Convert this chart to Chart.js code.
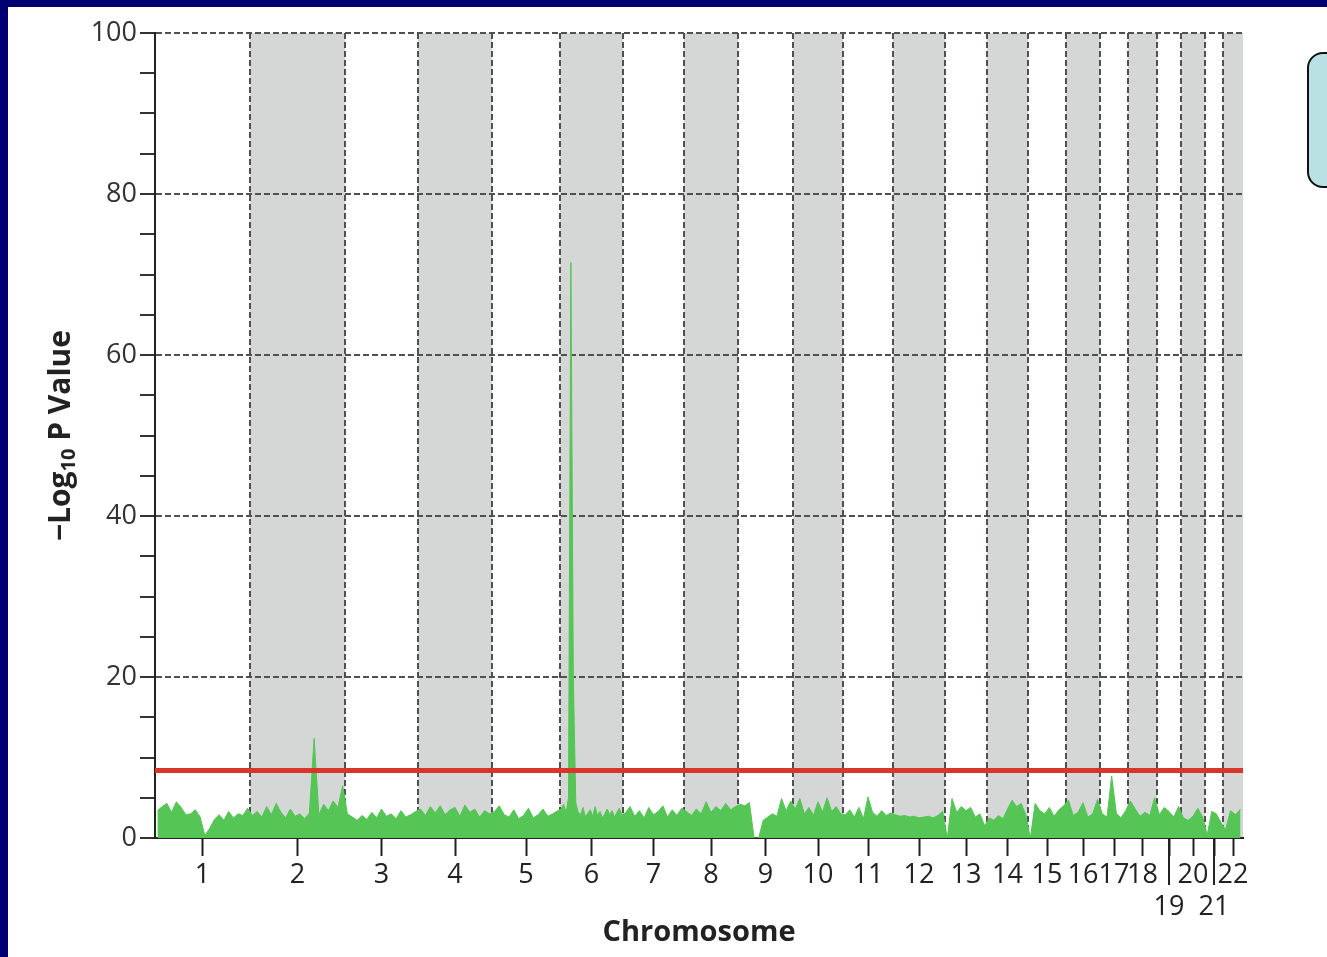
<!DOCTYPE html>
<html>
<head>
<meta charset="utf-8">
<script src="https://cdn.jsdelivr.net/npm/chart.js@4/dist/chart.umd.min.js"></script>
<style>
  html, body { margin: 0; padding: 0; }
  body { width: 1327px; height: 957px; background: #000070; position: relative; overflow: hidden; }
  #panel { position: absolute; left: 8px; top: 7px; right: 0; bottom: 0; background: #fff; }
  #note { position: absolute; left: 1307px; top: 52px; width: 60px; height: 132px; background: #b9e1e4; border: 2px solid #111; border-radius: 16px; }
  canvas { position: absolute; left: 0; top: 0; }
</style>
</head>
<body>
<div id="panel"></div>
<div id="note"></div>
<canvas id="chart" width="1327" height="957"></canvas>
<script>
const chromosomes = ['1','2','3','4','5','6','7','8','9','10','11','12','13','14','15','16','17','18','19','20','21','22'];
// relative chromosome widths
const chromLen = [95, 95, 73, 74, 68, 63, 61, 54, 55, 50, 50, 52, 42, 41, 38, 34, 28, 29, 24, 24, 18, 20];
const threshold = 8.4;

const chr1 = [3.4, 3.9, 4.3, 3.2, 4.5, 3.8, 2.9, 3.0, 3.5, 2.6, 0.3, 1.2, 2.3, 2.9, 2.2, 3.3, 2.5, 3.0, 2.8, 3.7];
const chr2 = [2.8, 3.3, 2.6, 3.9, 2.9, 4.3, 3.2, 2.5, 3.6, 2.7, 3.0, 2.4, 3.1, 12.4, 2.9, 4.2, 3.4, 4.6, 3.8, 6.5];
const chr3 = [3.0, 2.6, 2.2, 2.8, 2.3, 3.2, 2.5, 3.6, 2.7, 3.0, 2.4, 3.4, 2.6, 2.9, 3.3];
const chr4 = [3.6, 2.8, 3.9, 3.1, 4.0, 2.9, 3.5, 3.8, 2.7, 4.1, 3.2, 3.6, 2.6, 3.4, 3.0];
const chr5 = [3.3, 4.0, 2.9, 2.6, 3.5, 2.4, 2.8, 3.7, 2.5, 2.9, 3.6, 2.7, 3.0, 3.4];
const chr6 = [3.6, 4.2, 3.1, 5.0, 71.5, 20.0, 4.4, 3.2, 2.9, 3.8, 2.6, 3.1, 3.5, 2.7, 3.9, 2.8, 3.3, 2.5, 3.0, 3.6, 2.9, 3.4, 2.6, 3.2, 3.7, 2.9];
const chr7 = [3.1, 3.9, 2.7, 3.4, 2.5, 3.8, 2.9, 3.3, 4.0, 2.6, 3.5, 2.8, 3.7];
const chr8 = [3.3, 2.8, 3.6, 3.0, 4.5, 3.2, 3.9, 3.4, 4.3, 3.5, 3.9];
const chr9 = [4.2, 4.0, 4.4, 0.0, 0.0, 2.2, 2.6, 3.0, 2.7, 4.9, 3.4, 4.6];
const chr10 = [3.6, 4.9, 3.0, 3.8, 2.8, 4.5, 3.2, 5.0, 3.3, 3.9, 3.0];
const chr11 = [2.9, 3.5, 2.6, 3.8, 2.4, 5.1, 3.2, 2.7, 3.4, 2.8, 3.1];
const chr12 = [2.9, 2.7, 2.8, 2.6, 2.7, 2.5, 2.6, 2.7, 2.5, 2.8, 3.3];
const chr13 = [0.0, 4.9, 3.2, 3.9, 3.4, 3.8, 2.6, 3.0, 1.5];
const chr14 = [2.5, 2.2, 2.8, 2.4, 3.6, 4.7, 3.9, 4.3, 2.9];
const chr15 = [0.0, 4.3, 3.4, 3.0, 3.8, 2.7, 3.5, 4.0];
const chr16 = [4.7, 2.8, 3.2, 4.4, 2.6, 3.0, 4.8];
const chr17 = [3.0, 2.6, 7.7, 3.1, 2.5, 3.4];
const chr18 = [4.6, 3.6, 2.7, 3.2, 2.8, 5.0];
const chr19 = [2.9, 3.8, 3.3, 2.6, 3.9];
const chr20 = [2.5, 2.2, 2.7, 3.7, 2.6];
const chr21 = [0.4, 3.3, 3.0, 2.0];
const chr22 = [1.0, 3.4, 2.9, 3.6];

const logP = [chr1, chr2, chr3, chr4, chr5, chr6, chr7, chr8, chr9, chr10, chr11,
  chr12, chr13, chr14, chr15, chr16, chr17, chr18, chr19, chr20, chr21, chr22];

let starts = [], pos = 0;
chromLen.forEach(len => { starts.push(pos); pos += len; });
const total = pos;
const centers = chromLen.map((len, c) => starts[c] + len / 2);

let points = [];
logP.forEach((vals, c) => {
  vals.forEach((v, i) => {
    points.push({ x: starts[c] + (i + 0.5) * chromLen[c] / vals.length, y: v });
  });
});

Chart.defaults.font.family = '"Open Sans", "Noto Sans", sans-serif';

const decor = {
  id: 'decor',
  beforeDraw: chart => {
    const { ctx, chartArea: a, scales: { x } } = chart;
    ctx.save();
    ctx.fillStyle = '#d5d7d7';
    chromLen.forEach((len, c) => {
      if (c % 2 === 1) {
        let x1 = x.getPixelForValue(starts[c]);
        let x2 = x.getPixelForValue(starts[c] + len);
        ctx.fillRect(x1, a.top, x2 - x1, a.bottom - a.top);
      }
    });
    ctx.restore();
  },
  beforeDatasetsDraw: chart => {
    const { ctx, chartArea: a, scales: { x } } = chart;
    ctx.save();
    ctx.strokeStyle = '#505050';
    ctx.lineWidth = 2;
    ctx.setLineDash([6, 3]);
    for (let c = 1; c < starts.length; c++) {
      let px = Math.round(x.getPixelForValue(starts[c]));
      ctx.beginPath();
      ctx.moveTo(px, a.top);
      ctx.lineTo(px, a.bottom);
      ctx.stroke();
    }
    ctx.restore();
  },
  afterDraw: chart => {
    const { ctx, chartArea: a, scales: { x } } = chart;
    ctx.save();
    // long ticks under 19 and 21
    ctx.strokeStyle = '#222';
    ctx.lineWidth = 2;
    [18, 20].forEach(c => {
      let px = x.getPixelForValue(centers[c]);
      ctx.beginPath();
      ctx.moveTo(px, a.bottom);
      ctx.lineTo(px, a.bottom + 47);
      ctx.stroke();
    });
    // y title with subscript
    ctx.translate(60, (a.top + a.bottom) / 2);
    ctx.rotate(-Math.PI / 2);
    ctx.fillStyle = '#222';
    ctx.textBaseline = 'alphabetic';
    let big = 'bold 30px "Open Sans", "Noto Sans", sans-serif';
    let small = 'bold 20px "Open Sans", "Noto Sans", sans-serif';
    ctx.font = big;
    let w1 = ctx.measureText('\u2212Log').width;
    let w3 = ctx.measureText(' P Value').width;
    ctx.font = small;
    let w2 = ctx.measureText('10').width;
    let sx = -(w1 + w2 + w3) / 2;
    ctx.font = big;
    ctx.fillText('\u2212Log', sx, 10);
    ctx.font = small;
    ctx.fillText('10', sx + w1, 15);
    ctx.font = big;
    ctx.fillText(' P Value', sx + w1 + w2, 10);
    ctx.restore();
  }
};

let canvas = document.getElementById('chart').getContext('2d');

let chart = new Chart(canvas, {
  type: 'line',
  data: {
    datasets: [
      {
        label: 'threshold',
        data: [{ x: 0, y: threshold }, { x: total, y: threshold }],
        borderColor: '#d9352a',
        borderWidth: 5,
        pointRadius: 0,
        fill: false,
        order: 0
      },
      {
        label: '-log10 P',
        data: points,
        borderColor: '#55c555',
        backgroundColor: '#55c555',
        borderWidth: 1,
        pointRadius: 0,
        tension: 0,
        fill: 'origin',
        order: 1
      }
    ]
  },
  options: {
    responsive: false,
    animation: false,
    devicePixelRatio: 1,
    layout: { padding: { top: 33, right: 84, left: 0, bottom: 0 } },
    plugins: { legend: { display: false }, tooltip: { enabled: false } },
    scales: {
      x: {
        type: 'linear',
        min: 0,
        max: total,
        afterFit: s => { s.height = 119; },
        afterBuildTicks: s => { s.ticks = centers.map(v => ({ value: v })); },
        ticks: {
          autoSkip: false,
          maxRotation: 0,
          padding: 3,
          color: '#222',
          font: { size: 27 },
          callback: (v, i) => (i === 18 || i === 20) ? ['', chromosomes[i]] : chromosomes[i]
        },
        grid: { drawOnChartArea: false, drawTicks: true, tickLength: 18, tickColor: '#222', tickWidth: 2 },
        border: { color: '#222', width: 2 },
        title: {
          display: true,
          text: 'Chromosome',
          color: '#222',
          font: { size: 29, weight: 'bold' },
          padding: { top: 0, bottom: 7 }
        }
      },
      y: {
        min: 0,
        max: 100,
        afterFit: s => { s.width = 155; },
        ticks: {
          stepSize: 5,
          padding: 3,
          color: '#333',
          font: { size: 27 },
          callback: v => v % 20 === 0 ? v : ''
        },
        grid: {
          color: c => c.tick && c.tick.value % 20 === 0 ? '#505050' : 'rgba(0,0,0,0)',
          lineWidth: 2,
          tickLength: 15,
          tickColor: '#333',
          tickWidth: 2
        },
        border: { color: '#222', width: 2, dash: [6, 3] }
      }
    }
  },
  plugins: [decor]
});
</script>
</body>
</html>
